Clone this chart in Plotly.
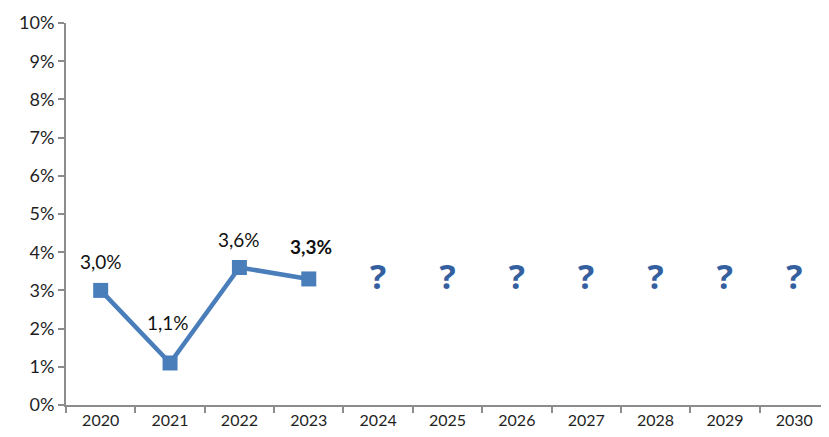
import plotly.graph_objects as go

years = ["2020", "2021", "2022", "2023", "2024", "2025", "2026", "2027", "2028", "2029", "2030"]
actual_years = ["2020", "2021", "2022", "2023"]
actual_values = [3.0, 1.1, 3.6, 3.3]
forecast_years = ["2024", "2025", "2026", "2027", "2028", "2029", "2030"]
forecast_marker_level = 3.25
y_ticks = list(range(0, 11))

FONT = "Lato"
LINE_BLUE = "#4a7ebb"
Q_BLUE = "#34609f"

fig = go.Figure()
fig.add_trace(go.Scatter(
    x=actual_years, y=actual_values, mode="lines+markers",
    line=dict(color=LINE_BLUE, width=4.5),
    marker=dict(symbol="square", size=15, color=LINE_BLUE),
    showlegend=False, hoverinfo="skip",
))
fig.add_trace(go.Scatter(
    x=forecast_years, y=[forecast_marker_level] * len(forecast_years), mode="text",
    text=["<b>?</b>"] * len(forecast_years),
    textfont=dict(family="Open Sans", size=34, color=Q_BLUE),
    textposition="middle center", showlegend=False, hoverinfo="skip",
))

shifts = [(0, 29), (-2, 40), (0, 28), (2, 32)]
annotations = []
for i, (yr, v) in enumerate(zip(actual_years, actual_values)):
    dx, dy = shifts[i]
    txt = f"{v:.1f}%".replace(".", ",")
    if i == len(actual_values) - 1:
        txt = "<b>" + txt + "</b>"
    annotations.append(dict(x=years.index(yr), y=v, xref="x", yref="y", text=txt,
                            showarrow=False, xshift=dx, yshift=dy,
                            font=dict(family=FONT, size=19, color="#111111")))

fig.update_layout(
    width=821, height=429,
    margin=dict(l=58, r=0, t=15, b=32, autoexpand=False),
    paper_bgcolor="white", plot_bgcolor="white",
    font=dict(family=FONT, size=16, color="#262626"),
    annotations=annotations,
)
fig.update_xaxes(
    type="category", categoryorder="array", categoryarray=years,
    range=[-0.5, 10.5], tickson="boundaries",
    showline=True, linecolor="#8c8c8c", linewidth=2,
    ticks="outside", ticklen=6, tickcolor="#8c8c8c", tickwidth=2,
    showgrid=False, tickfont=dict(family=FONT, size=16, color="#1f1f1f"),
)
fig.update_yaxes(
    range=[0, 10], tickmode="array", tickvals=y_ticks,
    ticktext=[f"{t}%" for t in y_ticks],
    showline=True, linecolor="#8c8c8c", linewidth=2,
    ticks="outside", ticklen=6, tickcolor="#8c8c8c", tickwidth=2,
    showgrid=False, zeroline=False,
    tickfont=dict(family=FONT, size=18, color="#1f1f1f"),
)

fig.write_html("out.html")
